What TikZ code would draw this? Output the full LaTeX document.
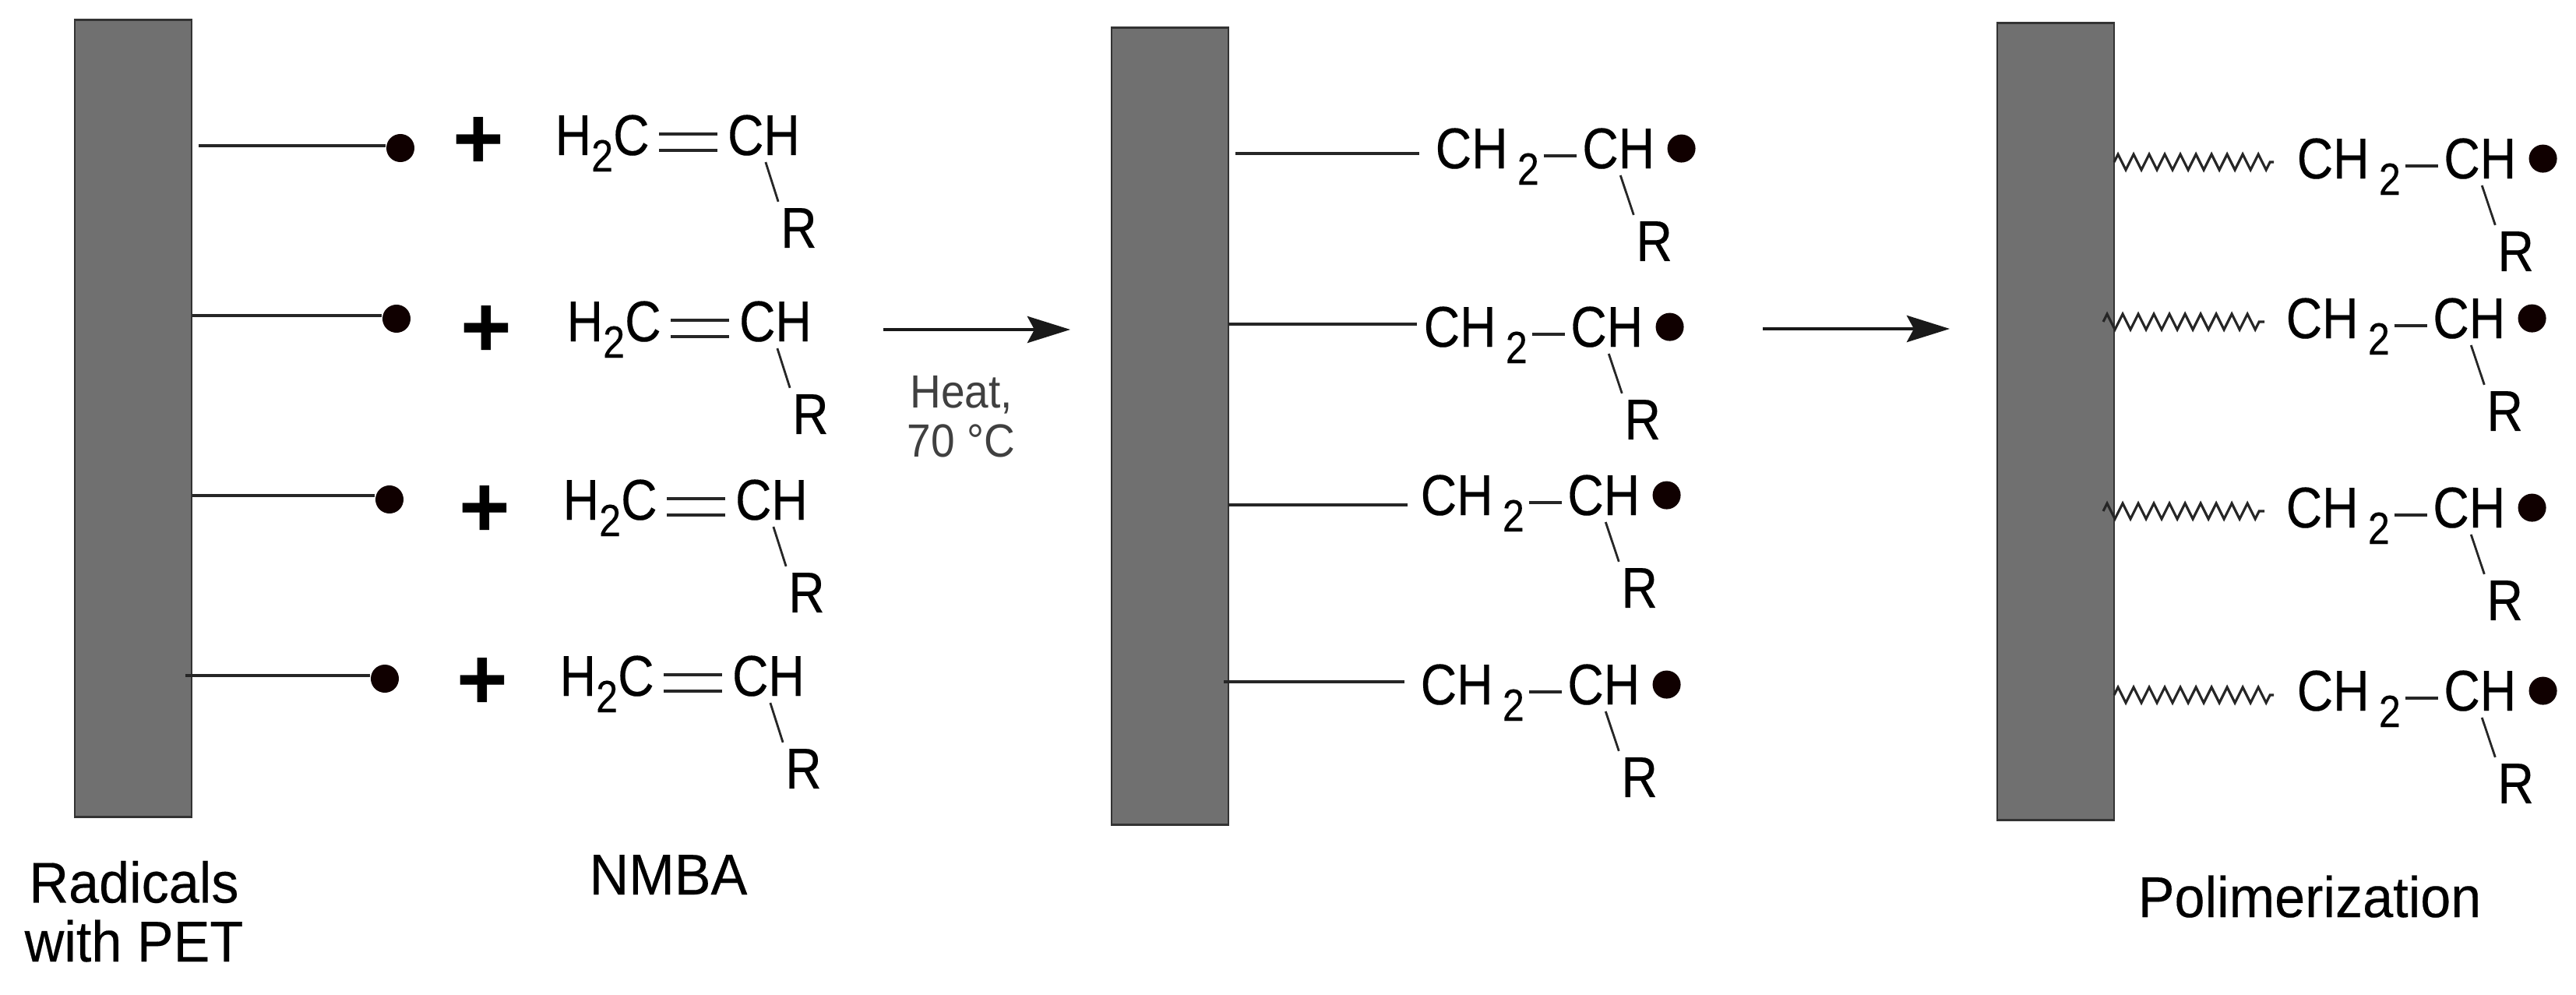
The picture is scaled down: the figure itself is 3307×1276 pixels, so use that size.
\documentclass[tikz,border=0pt]{standalone}
\usepackage{fontspec}
\usepackage{xcolor}
\setmainfont{Liberation Sans}[FakeStretch=0.87, FakeBold=0.25]
\newfontfamily\plusfont{Liberation Sans}
\newfontfamily\capfont{Liberation Sans}[FakeStretch=0.95, FakeBold=0.25]
\newfontfamily\heatfont{Liberation Sans}[FakeStretch=0.92]
\usetikzlibrary{positioning, arrows.meta, decorations.pathmorphing}
\definecolor{slab}{HTML}{707070}
\definecolor{radical}{HTML}{100000}
\newcommand{\subtwo}{\raisebox{-6pt}{\fontsize{16.5pt}{17pt}\selectfont 2}}

\begin{document}
\begin{tikzpicture}[
      x=0.01cm, y=-0.01cm,
      slabbar/.style={rectangle, draw=black!80, fill=slab, line width=0.7pt, minimum width=1.5cm, minimum height=10.22cm, inner sep=0pt},
      chem/.style={inner sep=0pt, font=\fontsize{21pt}{25pt}\selectfont},
      caption/.style={inner sep=0pt, align=center, font=\capfont\fontsize{21pt}{21.5pt}\selectfont},
      heatlabel/.style={inner sep=0pt, align=center, text=black!75, font=\heatfont\fontsize{17pt}{18pt}\selectfont},
      dot/.style={circle, fill=radical, minimum size=0.36cm, inner sep=0pt},
      plussign/.style={inner sep=0pt, font=\plusfont\bfseries\fontsize{32pt}{32pt}\selectfont},
      bondline/.style={line width=1.3pt, black!85},
      thinbond/.style={line width=0.8pt, black!85, shorten >=0.08cm, shorten <=0.08cm},
      chembond/.style={line width=1.1pt, black!85},
      chain/.style={line width=0.9pt, black!85, decorate, decoration={zigzag, amplitude=0.1cm, segment length=0.2cm}},
      reaction/.style={line width=1.4pt, black!90, -{Stealth[length=0.55cm, width=0.34cm, inset=0.09cm]}}
    ]
    \useasboundingbox (0,0) rectangle (3307,1276);

    % Slabs
    \node[slabbar] (bar1) at (171,537) {};
    \node[slabbar] (bar2) at (1502,547) {};
    \node[slabbar] (bar3) at (2639,541) {};

    % Radicals on the first slab
    \node[dot] (d1) at (514,190) {};
    \node[dot] (d2) at (509,409) {};
    \node[dot] (d3) at (500,641) {};
    \node[dot] (d4) at (494,871) {};
    \coordinate (s1) at (255,187);
    \coordinate (s2) at (247,405);
    \coordinate (s3) at (247,636);
    \coordinate (s4) at (238,867);
    \draw[bondline] (s1) -- (s1 -| d1.west);
    \draw[bondline] (s2) -- (s2 -| d2.west);
    \draw[bondline] (s3) -- (s3 -| d3.west);
    \draw[bondline] (s4) -- (s4 -| d4.west);

    % Plus signs
    \node[plussign] (p1) at (614,184) {+};
    \node[plussign] (p2) at (624,426) {+};
    \node[plussign] (p3) at (622,656) {+};
    \node[plussign] (p4) at (619,877) {+};

    % Monomers
    \node[chem, anchor=base west] (a1) at (712,199) {H\subtwo C};
    \node[chem, base right=0.99cm of a1] (b1) {CH};
    \node[chem, below right=0.66cm and -0.26cm of b1] (r1) {R};
    \node[chem, anchor=base west] (a2) at (727,438) {H\subtwo C};
    \node[chem, base right=0.99cm of a2] (b2) {CH};
    \node[chem, below right=0.66cm and -0.26cm of b2] (r2) {R};
    \node[chem, anchor=base west] (a3) at (722,667) {H\subtwo C};
    \node[chem, base right=0.99cm of a3] (b3) {CH};
    \node[chem, below right=0.66cm and -0.26cm of b3] (r3) {R};
    \node[chem, anchor=base west] (a4) at (718,893) {H\subtwo C};
    \node[chem, base right=0.99cm of a4] (b4) {CH};
    \node[chem, below right=0.66cm and -0.26cm of b4] (r4) {R};

    \draw[chembond, shorten <=0.12cm, shorten >=0.12cm] ([yshift=5pt]a1.mid east) -- ([yshift=5pt]b1.mid west);
    \draw[chembond, shorten <=0.12cm, shorten >=0.12cm] ([yshift=-0.9pt]a1.mid east) -- ([yshift=-0.9pt]b1.mid west);
    \draw[chembond, shorten <=0.12cm, shorten >=0.12cm] ([yshift=5pt]a2.mid east) -- ([yshift=5pt]b2.mid west);
    \draw[chembond, shorten <=0.12cm, shorten >=0.12cm] ([yshift=-0.9pt]a2.mid east) -- ([yshift=-0.9pt]b2.mid west);
    \draw[chembond, shorten <=0.12cm, shorten >=0.12cm] ([yshift=5pt]a3.mid east) -- ([yshift=5pt]b3.mid west);
    \draw[chembond, shorten <=0.12cm, shorten >=0.12cm] ([yshift=-0.9pt]a3.mid east) -- ([yshift=-0.9pt]b3.mid west);
    \draw[chembond, shorten <=0.12cm, shorten >=0.12cm] ([yshift=5pt]a4.mid east) -- ([yshift=5pt]b4.mid west);
    \draw[chembond, shorten <=0.12cm, shorten >=0.12cm] ([yshift=-0.9pt]a4.mid east) -- ([yshift=-0.9pt]b4.mid west);
    \draw[thinbond] (b1.south) -- (r1.north west);
    \draw[thinbond] (b2.south) -- (r2.north west);
    \draw[thinbond] (b3.south) -- (r3.north west);
    \draw[thinbond] (b4.south) -- (r4.north west);

    % Grafted radicals on the second slab
    \node[chem, anchor=base west] (a5) at (1842,216) {CH\,\subtwo};
    \node[chem, base right=0.54cm of a5] (b5) {CH};
    \node[dot, right=0.15cm of b5] (d5) {};
    \node[chem, below right=0.66cm and -0.25cm of b5] (r5) {R};
    \node[chem, anchor=base west] (a6) at (1827,445) {CH\,\subtwo};
    \node[chem, base right=0.54cm of a6] (b6) {CH};
    \node[dot, right=0.15cm of b6] (d6) {};
    \node[chem, below right=0.66cm and -0.25cm of b6] (r6) {R};
    \node[chem, anchor=base west] (a7) at (1823,661) {CH\,\subtwo};
    \node[chem, base right=0.54cm of a7] (b7) {CH};
    \node[dot, right=0.15cm of b7] (d7) {};
    \node[chem, below right=0.66cm and -0.25cm of b7] (r7) {R};
    \node[chem, anchor=base west] (a8) at (1823,904) {CH\,\subtwo};
    \node[chem, base right=0.54cm of a8] (b8) {CH};
    \node[dot, right=0.15cm of b8] (d8) {};
    \node[chem, below right=0.66cm and -0.25cm of b8] (r8) {R};

    \coordinate (s5) at (1586,197);
    \coordinate (s6) at (1577,416);
    \coordinate (s7) at (1577,648);
    \coordinate (s8) at (1571,875);
    \draw[bondline, shorten >=0.2cm] (s5) -- (s5 -| a5.west);
    \draw[bondline, shorten >=0.08cm] (s6) -- (s6 -| a6.west);
    \draw[bondline, shorten >=0.16cm] (s7) -- (s7 -| a7.west);
    \draw[bondline, shorten >=0.2cm] (s8) -- (s8 -| a8.west);

    % Chains on the third slab
    \node[chem, anchor=base west] (a9) at (2948,229) {CH\,\subtwo};
    \node[chem, base right=0.54cm of a9] (b9) {CH};
    \node[dot, right=0.15cm of b9] (d9) {};
    \node[chem, below right=0.66cm and -0.25cm of b9] (r9) {R};
    \node[chem, anchor=base west] (a10) at (2934,434) {CH\,\subtwo};
    \node[chem, base right=0.54cm of a10] (b10) {CH};
    \node[dot, right=0.15cm of b10] (d10) {};
    \node[chem, below right=0.66cm and -0.25cm of b10] (r10) {R};
    \node[chem, anchor=base west] (a11) at (2934,677) {CH\,\subtwo};
    \node[chem, base right=0.54cm of a11] (b11) {CH};
    \node[dot, right=0.15cm of b11] (d11) {};
    \node[chem, below right=0.66cm and -0.25cm of b11] (r11) {R};
    \node[chem, anchor=base west] (a12) at (2948,912) {CH\,\subtwo};
    \node[chem, base right=0.54cm of a12] (b12) {CH};
    \node[dot, right=0.15cm of b12] (d12) {};
    \node[chem, below right=0.66cm and -0.25cm of b12] (r12) {R};

    \coordinate (s9) at (2714,208);
    \coordinate (s10) at (2700,413);
    \coordinate (s11) at (2700,656);
    \coordinate (s12) at (2714,892);
    \coordinate (e9) at (2919,208);
    \coordinate (e10) at (2907,413);
    \coordinate (e11) at (2907,656);
    \coordinate (e12) at (2919,892);
    \draw[chain] (s9) -- (e9);
    \draw[chain] (s10) -- (e10);
    \draw[chain] (s11) -- (e11);
    \draw[chain] (s12) -- (e12);

    % Single bonds in the grafted units
    \foreach \i in {5,...,12} {
      \draw[chembond, shorten <=0.05cm, shorten >=0.07cm] ([yshift=2pt]a\i.mid east) -- ([yshift=2pt]b\i.mid west);
      \draw[thinbond] (b\i.south) -- (r\i.north west);
    }

    % Reaction arrows
    \coordinate (f1) at (1134,423);
    \coordinate (f2) at (1374,423);
    \coordinate (g1) at (2263,422);
    \coordinate (g2) at (2503,422);
    \draw[reaction] (f1) -- (f2);
    \draw[reaction] (g1) -- (g2);
    \node[heatlabel] (heat) at (1234,535) {Heat,\\70 °C};

    % Labels
    \node[caption, anchor=base] (radicals) at (172,1234) {Radicals\\with PET};
    \node[caption, anchor=base] (nmba) at (858,1148) {NMBA};
    \node[caption, anchor=base] (poly) at (2965,1177) {Polimerization};

  \end{tikzpicture}
\end{document}
